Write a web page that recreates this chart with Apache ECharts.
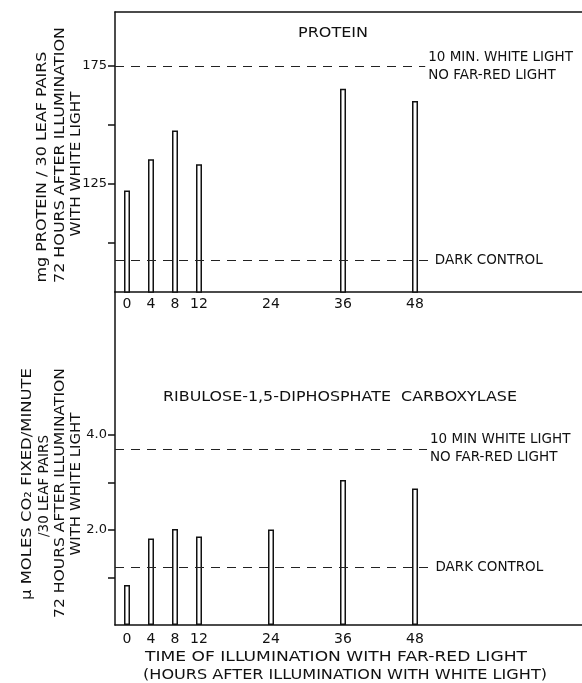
<!DOCTYPE html>
<html><head><meta charset="utf-8">
<script src="https://cdn.jsdelivr.net/npm/echarts@6/dist/echarts.min.js"></script>
<style>html,body{margin:0;padding:0;background:#fff}#c{width:582px;height:683px}</style>
</head><body><div id="c"></div>
<script>
const hours = [0, 4, 8, 12, 24, 36, 48];
const proteinValues = [122.1, 135.4, 147.6, 133.3, null, 165.4, 160.2];
const carboxylaseValues = [0.84, 1.82, 2.02, 1.86, 2.01, 3.05, 2.87];
const proteinWhiteLight = 175;
const proteinDarkControl = 92.6;
const carboxylaseWhiteLight = 3.70;
const carboxylaseDarkControl = 1.21;
const proteinTicks = [100, 125, 150, 175];
const proteinTickLabels = [125, 175];
const carboxylaseTicks = [1, 2, 3, 4];
const carboxylaseTickLabels = [2, 4];
const hourTickLabels = [0, 4, 8, 12, 24, 36, 48];

const FONT = 'DejaVu Sans';
const INK = '#111';
const X_MIN = -2, X_MAX = 75.83;

function pairs(vals) {
  return hours.map((h, i) => [h, vals[i]]).filter(d => d[1] !== null);
}
function refLines(white, dark, whiteEnd, darkEnd, whiteText) {
  const base = {fontFamily: FONT, fontSize: 13.5, color: INK, lineHeight: 18, position: 'end', distance: 3, show: true};
  const wl = Object.assign({}, base, {formatter: whiteText, padding: [6, 0, 0, 0]});
  const dl = Object.assign({}, base, {formatter: 'DARK CONTROL', padding: [0, 0, 16, 0]});
  return {
    silent: true, symbol: 'none', animation: false,
    lineStyle: {type: [9, 7], color: '#222', width: 1.2},
    label: base,
    data: [
      [{coord: [X_MIN, white], label: wl}, {coord: [whiteEnd, white], label: wl}],
      [{coord: [X_MIN, dark], label: dl}, {coord: [darkEnd, dark], label: dl}]
    ]
  };
}
const axisLine = {show: true, onZero: false, lineStyle: {color: INK, width: 1.5}};
const tickFont = {fontFamily: FONT, fontSize: 14, color: INK};
const yTickFont = {fontFamily: FONT, fontSize: 13, color: INK};

const measureCtx = document.createElement('canvas').getContext('2d');
const TEXT_FONT = '14.5px "DejaVu Sans"';
measureCtx.font = TEXT_FONT;
function txt(text, cx, cy, width, rotated) {
  const w = measureCtx.measureText(text).width;
  const s = width / w;
  return {
    type: 'text', x: cx, y: cy, rotation: rotated ? Math.PI / 2 : 0, scaleX: s, scaleY: 1,
    style: {text: text, font: TEXT_FONT, fill: INK, align: 'center', verticalAlign: 'middle'}
  };
}

const chart = echarts.init(document.getElementById('c'), null, {renderer: 'canvas'});
chart.setOption({
  animation: false,
  backgroundColor: '#fff',
  grid: [
    {left: 115, right: 0, top: 12, height: 280},
    {left: 115, right: 0, top: 292, height: 333}
  ],
  xAxis: [
    {type: 'value', gridIndex: 0, min: X_MIN, max: X_MAX, position: 'bottom', axisLine: axisLine,
     splitLine: {show: false}, axisTick: {show: false},
     axisLabel: Object.assign({customValues: hourTickLabels, margin: 5}, tickFont)},
    {type: 'value', gridIndex: 1, min: X_MIN, max: X_MAX, position: 'bottom', axisLine: axisLine,
     splitLine: {show: false}, axisTick: {show: false},
     axisLabel: Object.assign({customValues: hourTickLabels, margin: 7}, tickFont)},
    {type: 'value', gridIndex: 0, min: X_MIN, max: X_MAX, position: 'top', axisLine: axisLine,
     splitLine: {show: false}, axisTick: {show: false}, axisLabel: {show: false}}
  ],
  yAxis: [
    {type: 'value', gridIndex: 0, min: 79, max: 198, position: 'left', axisLine: axisLine, splitLine: {show: false},
     axisTick: {show: true, customValues: proteinTicks, length: 7, lineStyle: {color: INK, width: 1.5}},
     axisLabel: Object.assign({customValues: proteinTickLabels, margin: 8}, yTickFont)},
    {type: 'value', gridIndex: 1, min: 0, max: 7, position: 'left', axisLine: axisLine, splitLine: {show: false},
     axisTick: {show: true, customValues: carboxylaseTicks, length: 7, lineStyle: {color: INK, width: 1.5}},
     axisLabel: Object.assign({customValues: carboxylaseTickLabels, margin: 8,
       formatter: v => v.toFixed(1)}, yTickFont)}
  ],
  series: [
    {type: 'bar', xAxisIndex: 0, yAxisIndex: 0, data: pairs(proteinValues), barWidth: 6, clip: true,
     itemStyle: {color: '#fff', borderColor: INK, borderWidth: 1.5},
     markLine: refLines(proteinWhiteLight, proteinDarkControl, 49.7, 50.8, '10 MIN. WHITE LIGHT\nNO FAR-RED LIGHT')},
    {type: 'bar', xAxisIndex: 1, yAxisIndex: 1, data: pairs(carboxylaseValues), barWidth: 6, clip: true,
     itemStyle: {color: '#fff', borderColor: INK, borderWidth: 1.5},
     markLine: refLines(carboxylaseWhiteLight, carboxylaseDarkControl, 50, 50.9, '10 MIN WHITE LIGHT\nNO FAR-RED LIGHT')}
  ],
  graphic: [
    txt('PROTEIN', 333, 33, 70, false),
    txt('RIBULOSE-1,5-DIPHOSPHATE  CARBOXYLASE', 340, 397, 354, false),
    txt('mg PROTEIN / 30 LEAF PAIRS', 42, 167, 231, true),
    txt('72 HOURS AFTER ILLUMINATION', 60, 155, 256, true),
    txt('WITH WHITE LIGHT', 76, 164, 145, true),
    txt('μ MOLES CO₂ FIXED/MINUTE', 27, 484, 232, true),
    txt('/30 LEAF PAIRS', 44, 486, 102, true),
    txt('72 HOURS AFTER ILLUMINATION', 60, 493, 250, true),
    txt('WITH WHITE LIGHT', 76, 484, 143, true),
    txt('TIME OF ILLUMINATION WITH FAR-RED LIGHT', 336, 657, 382, false),
    txt('(HOURS AFTER ILLUMINATION WITH WHITE LIGHT)', 345, 675, 404, false)
  ]
});
</script>
</body></html>
